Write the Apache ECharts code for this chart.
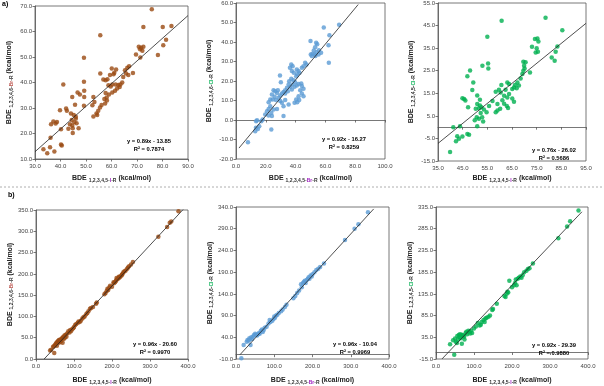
<!DOCTYPE html>
<html><head><meta charset="utf-8">
<script src="https://cdn.jsdelivr.net/npm/echarts@6/dist/echarts.min.js"></script>
<style>html,body{margin:0;padding:0;background:#fff}#c{width:604px;height:386px}</style>
</head><body><div id="c"></div>
<script>
// ---------- data ----------
const a1Points = [[75.8,68.7],[55.6,58.5],[49.2,49.7],[72.5,61.8],[80.1,61.8],[83.5,62.2],[81.4,56.8],[80.3,54.6],[78.2,50.8],
[70.7,54.0],[71.6,53.6],[72.5,54.0],[71.2,53.0],[72.1,52.5],[69.6,51.0],[71.3,49.8],
[68.4,43.7],[66.9,46.4],[66.2,45.8],[65.3,44.8],[65.7,43.5],[66.6,42.9],[64.6,42.2],
[60.1,45.5],[61.8,45.1],[61.1,43.8],[60.8,43.2],[59.4,42.9],[57.7,40.9],[58.8,38.9],[59.7,38.4],[60.3,39.2],[61.6,39.2],[62.7,39.0],[63.5,39.2],[64.2,40.0],[63.2,38.2],[62.2,37.6],[61.4,36.8],[60.3,36.1],[59.0,35.3],[57.7,35.9],[58.1,34.1],[57.2,33.5],[58.2,32.9],[57.5,31.8],[56.1,31.2],[55.5,30.2],[54.8,28.9],[54.4,27.3],[52.9,26.7],[54.1,27.8],
[55.6,43.5],[56.8,41.2],[58.4,41.3],
[49.2,40.3],[49.3,36.8],[46.7,36.1],[49.3,34.3],[44.6,34.3],[47.6,35.3],[45.7,31.3],[49.2,30.9],[52.9,34.3],[53.3,32.4],[52.5,31.1],
[41.1,39.2],[39.8,29.1],[42.5,28.9],[42.2,29.8],[44.1,27.8],[45.2,27.3],[46.0,26.6],[44.4,25.3],[45.4,24.4],[46.3,24.0],[43.7,23.6],[44.6,23.1],[46.0,25.8],[44.8,22.1],[43.1,21.9],[44.8,20.2],[47.1,22.1],
[36.3,23.6],[37.2,24.7],[38.6,24.5],[38.1,23.9],[40.2,21.7],[36.1,18.3],
[40.2,15.7],[40.5,15.3],[33.3,13.8],[34.8,12.3],[37.6,12.9],[35.9,14.6]];

const a2Points = [[69.2,48.9],[58.9,47.5],[62.7,43.4],[62.1,38.3],[62.3,29.3],[50.0,40.5],
[53.8,39.6],[54.5,38.9],[53.1,37.3],[55.6,35.8],[54.0,34.8],[52.9,33.6],[51.3,34.0],[50.2,33.6],[50.9,32.8],[57.1,34.5],[52.2,35.6],[53.3,32.8],[55.4,33.6],
[46.4,29.4],[47.3,28.5],[45.3,27.6],[44.2,26.8],[37.1,28.5],[38.0,27.6],[36.2,26.8],[37.5,25.1],
[40.8,25.9],[41.9,25.1],[41.1,23.5],[42.6,24.2],[40.4,22.5],[38.8,24.2],[29.5,22.8],[30.1,19.4],
[37.1,21.1],[35.7,19.9],[38.6,20.4],[39.7,19.4],[37.9,18.2],[35.3,18.2],[36.4,17.0],[34.2,16.5],[33.0,15.3],[31.9,14.3],[30.8,13.6],[29.7,12.6],[33.0,13.6],[34.8,14.8],[37.5,15.7],[39.3,17.0],[40.8,17.7],[42.0,18.4],[43.8,18.7],[44.2,17.4],[45.3,16.0],[43.1,15.3],[44.2,13.6],[45.3,12.2],[42.0,12.2],[40.4,10.5],[39.3,8.8],[41.1,9.1],[42.4,10.2],
[26.3,14.8],[25.2,15.3],[27.5,13.9],[28.1,15.3],[24.1,13.1],[25.9,11.9],[23.0,10.5],[21.9,9.1],[24.6,10.5],[26.8,10.2],[28.6,11.4],[29.7,9.7],[30.8,8.8],[33.0,10.2],[35.3,7.9],[31.9,7.1],[23.0,7.1],[21.9,5.7],[20.8,4.5],[23.7,3.7],[25.2,5.4],[27.5,5.7],[19.6,2.8],[21.9,2.3],[24.1,2.0],[31.9,2.0],[23.7,-4.9],
[17.9,0.2],[17.0,-0.6],[14.1,-0.1],[13.5,-0.6],[13.4,-4.0],[14.7,-4.6],[12.9,-5.8],[15.6,-3.2],[8.0,-11.4]];

const a3Points = [[78.6,48.5],[60.8,47.1],[85.4,42.9],[55.0,40.1],
[74.3,39.0],[75.3,39.3],[75.7,37.9],[73.1,35.6],[75.0,34.9],[74.6,33.1],[75.5,33.4],[83.4,35.7],[82.7,33.4],[81.1,30.9],[82.3,29.4],
[55.3,28.2],[55.4,26.0],[53.0,27.2],[48.0,25.1],[46.9,22.5],[49.3,19.8],[48.9,16.5],[50.9,14.0],[52.0,12.1],[44.9,12.8],[45.6,12.5],[46.1,11.8],
[69.6,29.0],[70.5,28.7],[69.9,27.2],[70.1,26.0],[69.6,25.0],[72.3,24.2],[69.2,23.5],[68.5,21.6],[67.2,19.8],[66.2,18.7],[67.8,18.4],[65.8,17.6],[66.9,17.2],[65.1,16.9],[63.8,19.1],[63.1,19.8],[60.7,18.7],[58.4,15.7],[59.7,16.6],[60.4,15.4],[62.4,16.6],[63.8,14.7],[61.8,13.9],[63.1,13.1],[65.1,12.7],[65.8,11.2],[61.1,11.9],[61.8,10.4],[62.9,9.4],[63.4,8.5],[60.2,8.1],[59.1,7.4],[58.4,6.6],[59.1,10.2],[57.1,11.6],[55.7,9.4],[54.7,6.6],
[50.9,10.3],[52.0,9.6],[51.6,8.4],[50.3,8.1],[52.6,8.8],[53.6,7.8],[52.3,6.3],[50.7,4.4],[51.6,3.7],[49.9,3.0],[52.9,4.4],[53.3,2.5],[50.9,0.4],[47.2,8.8],
[41.2,-0.1],[43.9,0.4],[42.8,-4.0],[44.9,-4.1],[43.5,-5.1],[46.9,-3.0],[47.6,-3.4],[42.3,-6.3],[39.9,-11.0]];

const b1Points = [[37,20],[40,22],[45,29],[48,14],[47,30],[50,33],[52,36],[54,38],[55,31],[56,40],[58,42],[60,38],[60,44],[62,45],[63,40],[65,46],[66,42],[68,48],[70,50],[70,38],[72,52],[73,47],[75,55],[76,50],[78,57],[80,52],[82,60],[85,65],[88,62],[90,68],[92,65],[95,70],[98,72],[100,75],[103,80],[106,82],[110,85],[112,88],[115,87],[118,90],[122,95],[125,98],[128,100],[132,105],[135,108],[138,112],[142,118],[145,120],[150,122],[158,130],[160,133],[180,152],[183,155],[186,160],[188,165],[190,162],[193,168],[195,172],[200,170],[204,180],[205,178],[208,180],[210,183],[212,186],[212,190],[215,188],[218,190],[218,193],[220,192],[222,194],[225,196],[226,198],[228,200],[230,204],[233,206],[236,208],[240,212],[242,215],[245,218],[250,222],[255,228],[322,287],[345,310],[352,320],[356,323],[375,347]];

const b2Points = [[14,-8],[20,22],[28,30],[30,34],[33,32],[35,38],[36,35],[38,22],[40,40],[42,36],[45,42],[47,45],[50,48],[52,46],[55,44],[58,47],[60,50],[62,48],[65,55],[68,58],[70,52],[72,56],[75,62],[80,64],[85,72],[88,80],[90,75],[95,78],[98,82],[100,88],[102,85],[105,90],[108,92],[112,96],[118,100],[122,104],[128,110],[132,115],[150,130],[155,135],[160,142],[165,148],[170,162],[172,155],[175,165],[178,168],[180,170],[182,165],[185,172],[188,175],[190,178],[192,175],[195,182],[198,180],[200,185],[205,190],[210,195],[215,198],[220,202],[230,210],[285,264],[310,290],[320,300],[345,328]];

const b3Points = [[37,19],[45,28],[48,-5],[50,32],[52,25],[55,22],[56,38],[58,30],[60,40],[62,35],[63,42],[65,33],[67,41],[68,20],[70,40],[72,38],[74,36],[75,30],[78,45],[80,48],[82,42],[85,50],[88,48],[90,44],[92,50],[95,45],[100,55],[105,60],[110,68],[115,62],[118,64],[120,70],[125,75],[128,70],[130,78],[133,80],[138,82],[142,85],[148,98],[150,100],[160,112],[180,130],[183,128],[186,135],[188,140],[190,138],[193,165],[200,150],[205,155],[208,160],[210,168],[212,155],[215,170],[218,172],[222,175],[225,172],[228,178],[232,185],[238,188],[242,192],[246,194],[255,205],[322,263],[345,290],[353,302],[375,327]];

// trend lines (end points as drawn in the reference)
const a1Trend = [[30,12.85],[90,66.25]];
const a2Trend = [[2,-14.4],[82,59.2]];
const a3Trend = [[35,-7.2],[95,46.0]];
const b1Trend = [[21.5,0],[388,352]];
const b2Trend = [[10.5,0],[360,335.6]];
const b3Trend = [[16,-14.7],[384,323.9]];

// tick labels
const a1XTicks = [30,40,50,60,70,80,90];
const a1YTicks = [10,20,30,40,50,60,70];
const a2XTicks = [0,20,40,60,80,100];
const a2YTicks = [-20,-10,0,10,20,30,40,50,60];
const a3XTicks = [35,45,55,65,75,85,95];
const a3YTicks = [-15,-5,5,15,25,35,45,55];
const bXTicks = [0,100,200,300,400];
const b1YTicks = [0,50,100,150,200,250,300,350];
const b2YTicks = [-10,40,90,140,190,240,290,340];
const b3YTicks = [-15,35,85,135,185,235,285,335];

const equations = ['y = 0.89x - 13.85','y = 0.92x - 16.27','y = 0.76x - 26.02','y = 0.96x - 20.60','y = 0.96x - 10.04','y = 0.92x - 29.39'];
const r2 = ['R² = 0.7874','R² = 0.8259','R² = 0.5686','R² = 0.9970','R² = 0.9969','R² = 0.9880'];

// ---------- styling ----------
const FONT = 'Liberation Sans, Arial, sans-serif';
const BROWN = '#9A4A12', BLUE = '#5B9BD5', GREEN = '#00B050';
const PURPLE = '#A020C0', BRRED = '#C0605A';

function nameRich(sub, el, elColor) {
  return {
    text: '{b|BDE }{s|' + sub + '}{c|' + el + '}{s|-R}{b| (kcal/mol)}',
    rich: {
      b: {fontSize: 7, fontWeight: 'bold', fontFamily: FONT, color: '#222', lineHeight: 9},
      s: {fontSize: 5, fontWeight: 'bold', fontFamily: FONT, color: '#333', lineHeight: 4, verticalAlign: 'bottom'},
      c: {fontSize: 5, fontWeight: 'bold', fontFamily: FONT, color: elColor, lineHeight: 4, verticalAlign: 'bottom'}
    }
  };
}

const panels = [
  {grid:{left:35,top:6,width:153,height:153}, pts:a1Points, trend:a1Trend, col:BROWN,
   x:[30,90,a1XTicks], y:[10,70,a1YTicks], xn:nameRich('1,2,3,4,5-','I',PURPLE), yn:nameRich('1,2,3,4,6-','Br',BRRED), xg:15, yg:21, eq:[149,137]},
  {grid:{left:236,top:3,width:149,height:156}, pts:a2Points, trend:a2Trend, col:BLUE,
   x:[0,100,a2XTicks], y:[-20,60,a2YTicks], xn:nameRich('1,2,3,4,5-','Br',PURPLE), yn:nameRich('1,2,3,4,6-','Cl',GREEN), xg:15, yg:22, eq:[344,135]},
  {grid:{left:438,top:2,width:148,height:159}, pts:a3Points, trend:a3Trend, col:GREEN,
   x:[35,95,a3XTicks], y:[-15,55,a3YTicks], xn:nameRich('1,2,3,4,5-','I',PURPLE), yn:nameRich('1,2,3,4,5-','Cl',GREEN), xg:13, yg:22, eq:[554,146]},
  {grid:{left:36,top:210,width:152,height:149}, pts:b1Points, trend:b1Trend, col:BROWN,
   x:[0,400,bXTicks], y:[0,350,b1YTicks], xn:nameRich('1,2,3,4,5-','I',PURPLE), yn:nameRich('1,2,3,4,6-','Br',BRRED), xg:17, yg:21, eq:[155,340]},
  {grid:{left:236,top:207,width:153,height:152}, pts:b2Points, trend:b2Trend, col:BLUE,
   x:[0,400,bXTicks], y:[-10,340,b2YTicks], xn:nameRich('1,2,3,4,5-','Br',PURPLE), yn:nameRich('1,2,3,4,6-','Cl',GREEN), xg:17, yg:21, eq:[355,340]},
  {grid:{left:436,top:207,width:152,height:152}, pts:b3Points, trend:b3Trend, col:GREEN,
   x:[0,400,bXTicks], y:[-15,335,b3YTicks], xn:nameRich('1,2,3,4,5-','I',PURPLE), yn:nameRich('1,2,3,4,5-','Cl',GREEN), xg:17, yg:21, eq:[554,341]}
];

const grids = [], xAxes = [], yAxes = [], series = [], graphics = [];
const lblStyle = {fontSize: 6, fontFamily: FONT, color: '#444', formatter: v => Number(v).toFixed(1)};
const axLine = {show: true, lineStyle: {color: '#555', width: 0.8}};
panels.forEach((p, i) => {
  grids.push(Object.assign({show: true, borderColor: '#555', borderWidth: 0.8, containLabel: false}, p.grid));
  xAxes.push({type: 'value', gridIndex: i, min: p.x[0], max: p.x[1],
    name: p.xn.text, nameLocation: 'middle', nameGap: p.xg, nameTextStyle: {rich: p.xn.rich},
    axisLine: axLine, splitLine: {show: false},
    axisTick: {show: true, length: 2.5, lineStyle: {color: '#555', width: 0.8}, customValues: p.x[2]},
    axisLabel: Object.assign({margin: 4, customValues: p.x[2]}, lblStyle)});
  yAxes.push({type: 'value', gridIndex: i, min: p.y[0], max: p.y[1],
    name: p.yn.text, nameLocation: 'middle', nameGap: p.yg, nameRotate: 90, nameTextStyle: {rich: p.yn.rich},
    axisLine: axLine, splitLine: {show: false},
    axisTick: {show: true, length: 2.5, lineStyle: {color: '#555', width: 0.8}, customValues: p.y[2]},
    axisLabel: Object.assign({margin: 3, customValues: p.y[2]}, lblStyle)});
  series.push({type: 'scatter', xAxisIndex: i, yAxisIndex: i, data: p.pts, symbolSize: 4.5,
    itemStyle: {color: p.col}, silent: true, z: 2});
  series.push({type: 'line', xAxisIndex: i, yAxisIndex: i, data: p.trend, showSymbol: false, symbol: 'none',
    lineStyle: {color: '#222', width: 0.8}, silent: true, z: 3});
  graphics.push({type: 'text', x: p.eq[0], y: p.eq[1], z: 10,
    style: {text: equations[i] + '\n' + r2[i], font: 'bold 5.8px ' + FONT, fill: '#000', textAlign: 'center', lineHeight: 8}});
});
graphics.push({type: 'line', shape: {x1: 0, y1: 187, x2: 604, y2: 187}, style: {stroke: '#999', lineWidth: 0.8, lineDash: [2, 2]}});
graphics.push({type: 'text', x: 2, y: 1, style: {text: 'a)', font: 'bold 7px ' + FONT, fill: '#000'}});
graphics.push({type: 'text', x: 8, y: 192, style: {text: 'b)', font: 'bold 7px ' + FONT, fill: '#000'}});

const chart = echarts.init(document.getElementById('c'), null, {renderer: 'canvas'});
chart.setOption({animation: false, grid: grids, xAxis: xAxes, yAxis: yAxes, series: series, graphic: graphics});
</script></body></html>
